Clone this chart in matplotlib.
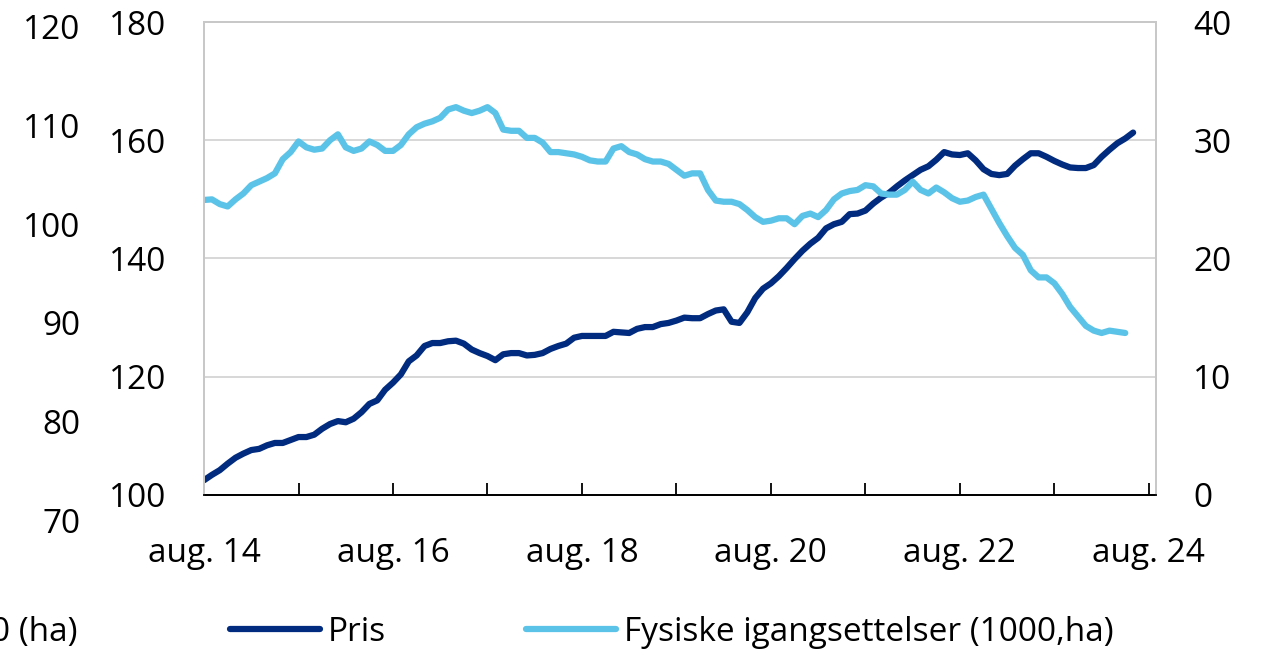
import numpy as np
import matplotlib.pyplot as plt

plt.rcParams['font.family'] = ['Open Sans', 'DejaVu Sans']

# monthly values, aug. 2014 onwards
pris = [102.5, 103.4, 104.2, 105.3, 106.3, 107.0, 107.6, 107.8, 108.4, 108.8,
        108.8, 109.3, 109.8, 109.8, 110.2, 111.2, 112.0, 112.5, 112.3, 112.9,
        114.0, 115.4, 116.0, 117.8, 119.0, 120.4, 122.6, 123.6, 125.2, 125.7,
        125.7, 126.0, 126.1, 125.6, 124.6, 124.0, 123.5, 122.8, 123.8, 124.0,
        124.0, 123.6, 123.7, 124.0, 124.7, 125.2, 125.6, 126.6, 126.9, 126.9,
        126.9, 126.9, 127.6, 127.5, 127.4, 128.1, 128.4, 128.4, 128.9, 129.1,
        129.5, 130.0, 129.9, 129.9, 130.6, 131.2, 131.4, 129.3, 129.1, 130.9,
        133.3, 134.9, 135.8, 137.0, 138.4, 139.9, 141.3, 142.5, 143.5, 145.1,
        145.8, 146.2, 147.5, 147.6, 148.1, 149.3, 150.3, 151.1, 152.2, 153.2,
        154.1, 155.0, 155.6, 156.7, 158.0, 157.6, 157.5, 157.8, 156.6, 155.1,
        154.3, 154.1, 154.3, 155.7, 156.8, 157.8, 157.8, 157.2, 156.5, 155.9,
        155.4, 155.3, 155.3, 155.8, 157.2, 158.4, 159.5, 160.3, 161.3]

fysiske = [24.95, 25.0, 24.6, 24.4, 25.0, 25.5, 26.2, 26.5, 26.8, 27.2,
           28.4, 29.0, 29.9, 29.4, 29.2, 29.3, 30.0, 30.5, 29.4, 29.1,
           29.3, 29.9, 29.6, 29.1, 29.1, 29.6, 30.5, 31.1, 31.4, 31.6,
           31.9, 32.6, 32.8, 32.5, 32.3, 32.5, 32.8, 32.3, 30.9, 30.8,
           30.8, 30.2, 30.2, 29.8, 29.0, 29.0, 28.9, 28.8, 28.6, 28.3,
           28.2, 28.2, 29.3, 29.5, 29.0, 28.8, 28.4, 28.2, 28.2, 28.0,
           27.5, 27.0, 27.2, 27.2, 25.8, 24.9, 24.8, 24.8, 24.6, 24.1,
           23.5, 23.1, 23.2, 23.4, 23.4, 22.9, 23.6, 23.8, 23.5, 24.1,
           25.0, 25.5, 25.7, 25.8, 26.2, 26.1, 25.5, 25.4, 25.4, 25.8,
           26.5, 25.8, 25.5, 26.0, 25.6, 25.1, 24.8, 24.9, 25.2, 25.4,
           24.2, 23.0, 21.9, 20.9, 20.3, 19.0, 18.4, 18.4, 17.9, 17.0,
           15.9, 15.1, 14.3, 13.9, 13.7, 13.9, 13.8, 13.7]

x_ticks = list(range(0, 121, 12))
x_labels = ['aug. 14', '', 'aug. 16', '', 'aug. 18', '', 'aug. 20', '',
            'aug. 22', '', 'aug. 24']
left_ticks = [100, 120, 140, 160, 180]
right_ticks = [0, 10, 20, 30, 40]
outer_ticks = [70, 80, 90, 100, 110, 120]

dark = '#002B7F'
light = '#5BC3E8'
fs = 24

fig = plt.figure(figsize=(12.61, 6.55), dpi=100)

# remains of a neighbouring chart on the far left
ax0 = fig.add_axes([0.0714, 0.2061, 0.001, 0.7527])
ax0.set_ylim(70, 120)
ax0.set_yticks(outer_ticks)
ax0.set_xticks([])
ax0.tick_params(axis='y', length=0, pad=7, labelsize=fs)
for s in ax0.spines.values():
    s.set_visible(False)
ax0.patch.set_visible(False)

ax = fig.add_axes([0.1618, 0.2443, 0.7549, 0.7221])
ax2 = ax.twinx()

x1 = np.arange(len(pris))
x2 = np.arange(len(fysiske))
ax.plot(x1, pris, color=dark, lw=4.5, solid_capstyle='round',
        solid_joinstyle='round', label='Pris')
ax2.plot(x2, fysiske, color=light, lw=4.5, solid_capstyle='round',
         solid_joinstyle='round', label='Fysiske igangsettelser (1000,ha)')

ax.set_xlim(0, 120.9)
ax.set_ylim(100, 180)
ax2.set_ylim(0, 40)
ax.set_yticks(left_ticks)
ax2.set_yticks(right_ticks)
ax.set_xticks(x_ticks)
ax.set_xticklabels(x_labels)

ax.grid(axis='y', color='#D4D4D4', lw=1.3)
ax.set_axisbelow(True)
ax.tick_params(axis='y', length=0, pad=27, labelsize=fs)
ax2.tick_params(axis='y', length=0, pad=27, labelsize=fs)
ax.tick_params(axis='x', direction='in', length=9, width=1.3, pad=30,
               labelsize=fs, color='black')

for a in (ax, ax2):
    for side in ('left', 'top', 'right'):
        a.spines[side].set_color('#C8C8C8')
        a.spines[side].set_linewidth(1.3)
    a.spines['bottom'].set_color('black')
    a.spines['bottom'].set_linewidth(1.3)

h1, l1 = ax.get_legend_handles_labels()
h2, l2 = ax2.get_legend_handles_labels()
fig.legend(h1 + h2, l1 + l2, loc='center left',
           bbox_to_anchor=(230 / 1261, 0.035), ncol=2, frameon=False,
           fontsize=fs, handlelength=2.7, handletextpad=0.24,
           columnspacing=4.2, borderpad=0, borderaxespad=0)

fig.text(-0.007, 0.035, '0 (ha)', fontsize=fs, va='center', ha='left')

fig.savefig('out.png', dpi=100)
